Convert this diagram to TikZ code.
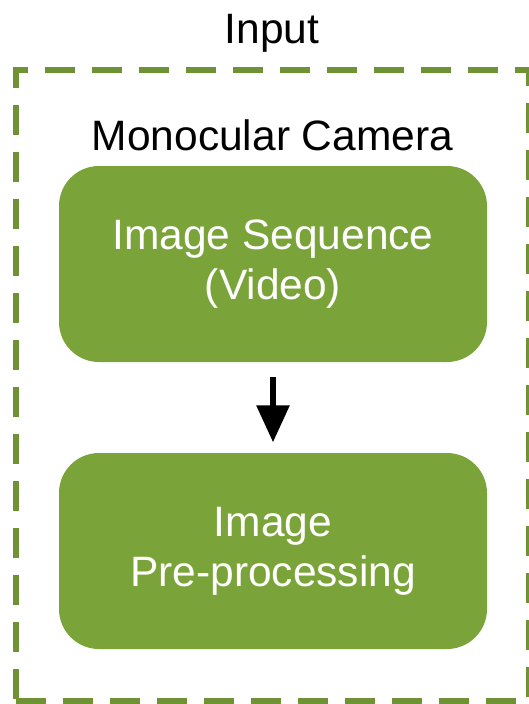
\documentclass[tikz,border=0pt]{standalone}
\usepackage{fontspec}
\setmainfont{Liberation Sans}
\usetikzlibrary{arrows.meta}
\definecolor{boxgreen}{RGB}{122,164,57}
\definecolor{framegreen}{RGB}{110,146,52}

\begin{document}
\begin{tikzpicture}[x=1pt,y=-1pt,
    stepbox/.style={fill=boxgreen, rounded corners=40pt, minimum width=428pt,
      minimum height=196pt, text=white, align=center, inner sep=0pt,
      font=\fontsize{42.5}{50}\selectfont},
    frame/.style={draw=framegreen, line width=5.5pt, dash pattern=on 30pt off 17pt,
      minimum width=513pt, minimum height=631pt, inner sep=0pt},
    caption/.style={font=\fontsize{42.5}{50}\selectfont, inner sep=0pt, anchor=base}]
  \useasboundingbox (0,0) rectangle (528,704);
  \node[frame] (input) at (272.5,385.5) {};
  \node[caption] (title) at (272,43) {Input};
  \node[caption] (camera) at (272.5,150) {Monocular Camera};
  \node[stepbox] (video) at (273,264) {Image Sequence\\(Video)};
  \node[stepbox] (prep) at (273,551) {Image\\Pre-processing};
  \draw[-{Triangle[length=37pt,width=32pt]}, line width=6pt,
    shorten <=15pt, shorten >=10.5pt] (video) -- (prep);
\end{tikzpicture}
\end{document}
